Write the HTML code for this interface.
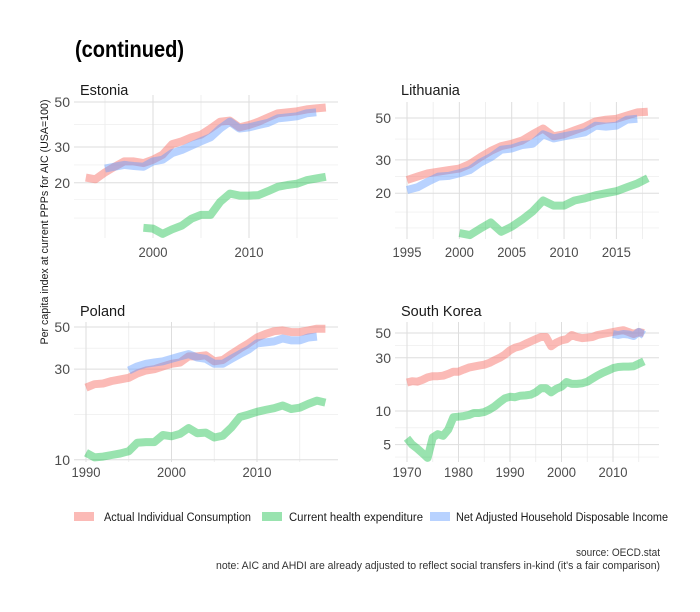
<!DOCTYPE html>
<html><head><meta charset="utf-8"><style>
html,body{margin:0;padding:0;background:#fff;}
svg{display:block;font-family:"Liberation Sans Narrow","Liberation Sans",sans-serif;}
</style></head><body>
<svg id="chart" width="700" height="612" viewBox="0 0 700 612">
<text x="75" y="57" font-size="23" font-weight="bold" fill="#000" textLength="109" lengthAdjust="spacingAndGlyphs">(continued)</text>
<text transform="translate(48,222) rotate(-90)" text-anchor="middle" font-size="11" fill="#1a1a1a" textLength="245" lengthAdjust="spacingAndGlyphs">Per capita index at current PPPs for AIC (USA=100)</text>
<g id="panels"></g>
<g>
<rect x="74" y="512" width="20" height="9" fill="#F8766D" opacity="0.5"/>
<text x="104" y="521" font-size="11.5" fill="#1a1a1a" textLength="147" lengthAdjust="spacingAndGlyphs">Actual Individual Consumption</text>
<rect x="262" y="512" width="20" height="9" fill="#00BA38" opacity="0.4"/>
<text x="289" y="521" font-size="11.5" fill="#1a1a1a" textLength="134" lengthAdjust="spacingAndGlyphs">Current health expenditure</text>
<rect x="430" y="512" width="20" height="9" fill="#619CFF" opacity="0.45"/>
<text x="456" y="521" font-size="11.5" fill="#1a1a1a" textLength="212" lengthAdjust="spacingAndGlyphs">Net Adjusted Household Disposable Income</text>
</g>
<text x="660" y="556" text-anchor="end" font-size="11" fill="#333" textLength="84" lengthAdjust="spacingAndGlyphs">source: OECD.stat</text>
<text x="660" y="569" text-anchor="end" font-size="11" fill="#333" textLength="444" lengthAdjust="spacingAndGlyphs">note: AIC and AHDI are already adjusted to reflect social transfers in-kind (it's a fair comparison)</text>
</svg>
<script>
// ---- data ----
const estoniaAicYears = [1993,1994,1995,1996,1997,1998,1999,2000,2001,2002,2003,2004,2005,2006,2007,2008,2009,2010,2011,2012,2013,2014,2015,2016,2017,2018];
const estoniaAic = [21.2,20.8,22.5,24,25.5,25.5,25,26,27.5,31,32,33.5,34.5,37,40,40.5,37.5,38.5,40,42,44,44.5,45,46,46.5,47];
const estoniaAhdiYears = [1995,1996,1997,1998,1999,2000,2001,2002,2003,2004,2005,2006,2007,2008,2009,2010,2011,2012,2013,2014,2015,2016,2017];
const estoniaAhdi = [23.5,24,24.5,24.2,24,25.5,26,28,29,30.5,32,33.5,37,40,37,37.5,38.5,39.5,41.5,42,42.5,44,44.5];
const estoniaHealthYears = [1999,2000,2001,2002,2003,2004,2005,2006,2007,2008,2009,2010,2011,2012,2013,2014,2015,2016,2017,2018];
const estoniaHealth = [12,11.9,11.2,11.8,12.3,13.3,13.9,13.9,16.1,17.7,17.3,17.3,17.4,18.2,19.1,19.5,19.8,20.6,21,21.4];

const lithuaniaAicYears = [1995,1996,1997,1998,1999,2000,2001,2002,2003,2004,2005,2006,2007,2008,2009,2010,2011,2012,2013,2014,2015,2016,2017,2018];
const lithuaniaAic = [23.5,24.5,25.5,26,26.5,27,28.5,31,33.5,35.5,36.5,38,41,44,40,41,43,45,48,49,49.5,51.5,53.5,54];
const lithuaniaAhdiYears = [1995,1996,1997,1998,1999,2000,2001,2002,2003,2004,2005,2006,2007,2008,2009,2010,2011,2012,2013,2014,2015,2016,2017];
const lithuaniaAhdi = [20.8,21.5,23,24.5,24.7,25.5,26.5,29,31,34,34.5,36,36.5,41,39,40,41,42,45.5,45,45.5,49,49.5];
const lithuaniaHealthYears = [2000,2001,2002,2003,2004,2005,2006,2007,2008,2009,2010,2011,2012,2013,2014,2015,2016,2017,2018];
const lithuaniaHealth = [12.3,12,13,14,12.5,13.3,14.5,16,18.3,17.2,17.2,18.3,18.8,19.5,20,20.5,21.5,22.5,24];

const polandAicYears = [1990,1991,1992,1993,1994,1995,1996,1997,1998,1999,2000,2001,2002,2003,2004,2005,2006,2007,2008,2009,2010,2011,2012,2013,2014,2015,2016,2017,2018];
const polandAic = [24,25,25.2,26,26.5,27,28.5,29.5,30,31,32,32.5,35,35,35.5,33,33.5,36,38.5,41,44,46,47.5,48,47,47,48,49,49];
const polandAhdiYears = [1995,1996,1997,1998,1999,2000,2001,2002,2003,2004,2005,2006,2007,2008,2009,2010,2011,2012,2013,2014,2015,2016,2017];
const polandAhdi = [29.5,31,32,32.5,33,34,35,36,34.5,34,32,32,34,36,38,41,41.5,42,43.5,42.5,42.5,44,44.5];
const polandHealthYears = [1990,1991,1992,1993,1994,1995,1996,1997,1998,1999,2000,2001,2002,2003,2004,2005,2006,2007,2008,2009,2010,2011,2012,2013,2014,2015,2016,2017,2018];
const polandHealth = [10.9,10.3,10.4,10.6,10.8,11.1,12.3,12.4,12.4,13.5,13.3,13.7,14.7,13.8,13.9,13.1,13.4,14.8,16.8,17.3,17.9,18.3,18.7,19.3,18.5,18.8,19.7,20.5,20];

const koreaAicYears = [1970,1971,1972,1973,1974,1975,1976,1977,1978,1979,1980,1981,1982,1983,1984,1985,1986,1987,1988,1989,1990,1991,1992,1993,1994,1995,1996,1997,1998,1999,2000,2001,2002,2003,2004,2005,2006,2007,2008,2009,2010,2011,2012,2013,2014,2015,2016];
const koreaAic = [18,18.5,18.3,19,20,20.5,20.5,20.7,21.5,22.5,22.5,23.5,24.5,25,25.5,26,27,28.5,30,32,35,37,38,40,42,44,46,46,38,41,43,44,48,46,45,45.5,46,48,49,50,51,52,53,51,49,51,50];
const koreaAhdiYears = [2010,2011,2012,2013,2014,2015,2016];
const koreaAhdi = [49,48,49,48.5,47,51,48];
const koreaHealthYears = [1970,1971,1972,1973,1974,1975,1976,1977,1978,1979,1980,1981,1982,1983,1984,1985,1986,1987,1988,1989,1990,1991,1992,1993,1994,1995,1996,1997,1998,1999,2000,2001,2002,2003,2004,2005,2006,2007,2008,2009,2010,2011,2012,2013,2014,2015,2016];
const koreaHealth = [5.7,5,4.6,4.2,3.8,5.8,6.2,6,6.8,8.8,8.9,9,9.2,9.6,9.6,9.8,10.3,11,12,13,13.4,13.3,13.7,13.8,14,14.7,16,16,14.7,15.8,16.5,18.2,17.5,17.5,17.7,18.3,19.5,20.8,22,23,24.2,24.8,25,25,25.2,26.5,27.8];

const estoniaYTicks = [20,30,50];
const estoniaYMinor = [13.4,16.5,24.5,38.7];
const estoniaXTicks = [2000,2010];
const estoniaXMinor = [1995,2005,2015];
const lithuaniaYTicks = [20,30,50];
const lithuaniaYMinor = [13.1,15.9,24.5,38.7];
const lithuaniaXTicks = [1995,2000,2005,2010,2015];
const lithuaniaXMinor = [1997.5,2002.5,2007.5,2012.5,2017.5];
const polandYTicks = [10,30,50];
const polandYMinor = [17.3,38.7];
const polandXTicks = [1990,2000,2010];
const polandXMinor = [1995,2005,2015];
const koreaYTicks = [5,10,30,50];
const koreaYMinor = [3.87,7.07,17.3,38.7];
const koreaXTicks = [1970,1980,1990,2000,2010];
const koreaXMinor = [1975,1985,1995,2005,2015];

// ---- layout (scales, not data) ----
const panels = [
 {name:'estonia', title:'Estonia', px0:74, px1:338, py0:95, py1:238, xa:1995, xaPx:105, xPerYr:9.6, yRef:50, yRefPx:102, pxPerDec:203, titleX:80, titleY:95, labelY:257,
  series:[[estoniaAicYears,estoniaAic,'aic'],[estoniaHealthYears,estoniaHealth,'health'],[estoniaAhdiYears,estoniaAhdi,'ahdi']], yt:estoniaYTicks, ym:estoniaYMinor, xt:estoniaXTicks, xm:estoniaXMinor},
 {name:'lithuania', title:'Lithuania', px0:395, px1:659, py0:102, py1:239, xa:1995, xaPx:407, xPerYr:10.47, yRef:50, yRefPx:118, pxPerDec:189, titleX:401, titleY:95, labelY:257,
  series:[[lithuaniaAicYears,lithuaniaAic,'aic'],[lithuaniaHealthYears,lithuaniaHealth,'health'],[lithuaniaAhdiYears,lithuaniaAhdi,'ahdi']], yt:lithuaniaYTicks, ym:lithuaniaYMinor, xt:lithuaniaXTicks, xm:lithuaniaXMinor},
 {name:'poland', title:'Poland', px0:74, px1:338, py0:322, py1:462, xa:1990, xaPx:86, xPerYr:8.55, yRef:50, yRefPx:327, pxPerDec:190, titleX:80, titleY:316, labelY:477,
  series:[[polandAicYears,polandAic,'aic'],[polandHealthYears,polandHealth,'health'],[polandAhdiYears,polandAhdi,'ahdi']], yt:polandYTicks, ym:polandYMinor, xt:polandXTicks, xm:polandXMinor},
 {name:'south-korea', title:'South Korea', px0:395, px1:659, py0:322, py1:462, xa:1970, xaPx:407, xPerYr:5.15, yRef:50, yRefPx:333, pxPerDec:111.6, titleX:401, titleY:316, labelY:477,
  series:[[koreaAicYears,koreaAic,'aic'],[koreaHealthYears,koreaHealth,'health'],[koreaAhdiYears,koreaAhdi,'ahdi']], yt:koreaYTicks, ym:koreaYMinor, xt:koreaXTicks, xm:koreaXMinor}
];
const colors = {aic:['#F8766D',0.5], health:['#00BA38',0.4], ahdi:['#619CFF',0.45]};
const NS='http://www.w3.org/2000/svg';
const root=document.getElementById('panels');
function mk(tag,attrs,parent){const e=document.createElementNS(NS,tag);for(const k in attrs)e.setAttribute(k,attrs[k]);parent.appendChild(e);return e;}

panels.forEach(p=>{
  const xs=y=>p.xaPx+(y-p.xa)*p.xPerYr;
  const ys=v=>p.yRefPx+(Math.log10(p.yRef)-Math.log10(v))*p.pxPerDec;
  const g=mk('g',{},root);
  
  
  p.ym.forEach(v=>{const l=mk('line',{x1:p.px0,x2:p.px1,y1:ys(v),y2:ys(v),stroke:'#ebebeb','stroke-width':0.6},g);
    
    });
  p.xm.forEach(v=>{const l=mk('line',{x1:xs(v),x2:xs(v),y1:p.py0,y2:p.py1,stroke:'#ebebeb','stroke-width':0.8},g);
    
    });
  p.yt.forEach(v=>{const l=mk('line',{x1:p.px0,x2:p.px1,y1:ys(v),y2:ys(v),stroke:'#dedede','stroke-width':1},g);
    
    
    const t=mk('text',{x:p.px0-4,y:ys(v)+5,'text-anchor':'end','font-size':14,fill:'#4d4d4d'},g);t.textContent=v;
    
    });
  p.xt.forEach(v=>{const l=mk('line',{x1:xs(v),x2:xs(v),y1:p.py0,y2:p.py1,stroke:'#dedede','stroke-width':1},g);
    
    
    const t=mk('text',{x:xs(v),y:p.labelY,'text-anchor':'middle','font-size':14,fill:'#4d4d4d',textLength:29,lengthAdjust:'spacingAndGlyphs'},g);t.textContent=v;
    
    });
  const tt=mk('text',{x:p.titleX,y:p.titleY,'font-size':14.5,fill:'#1a1a1a'},g);tt.textContent=p.title;
  
  
  p.series.forEach(([yrs,vals,key])=>{
    const d=yrs.map((y,i)=>(i?'L':'M')+xs(y).toFixed(1)+','+ys(vals[i]).toFixed(1)).join('');
    const path=mk('path',{d:d,fill:'none',stroke:colors[key][0],'stroke-opacity':colors[key][1],'stroke-width':8,'stroke-linejoin':'round'},g);
    
    
  });
});
</script>
</body></html>
